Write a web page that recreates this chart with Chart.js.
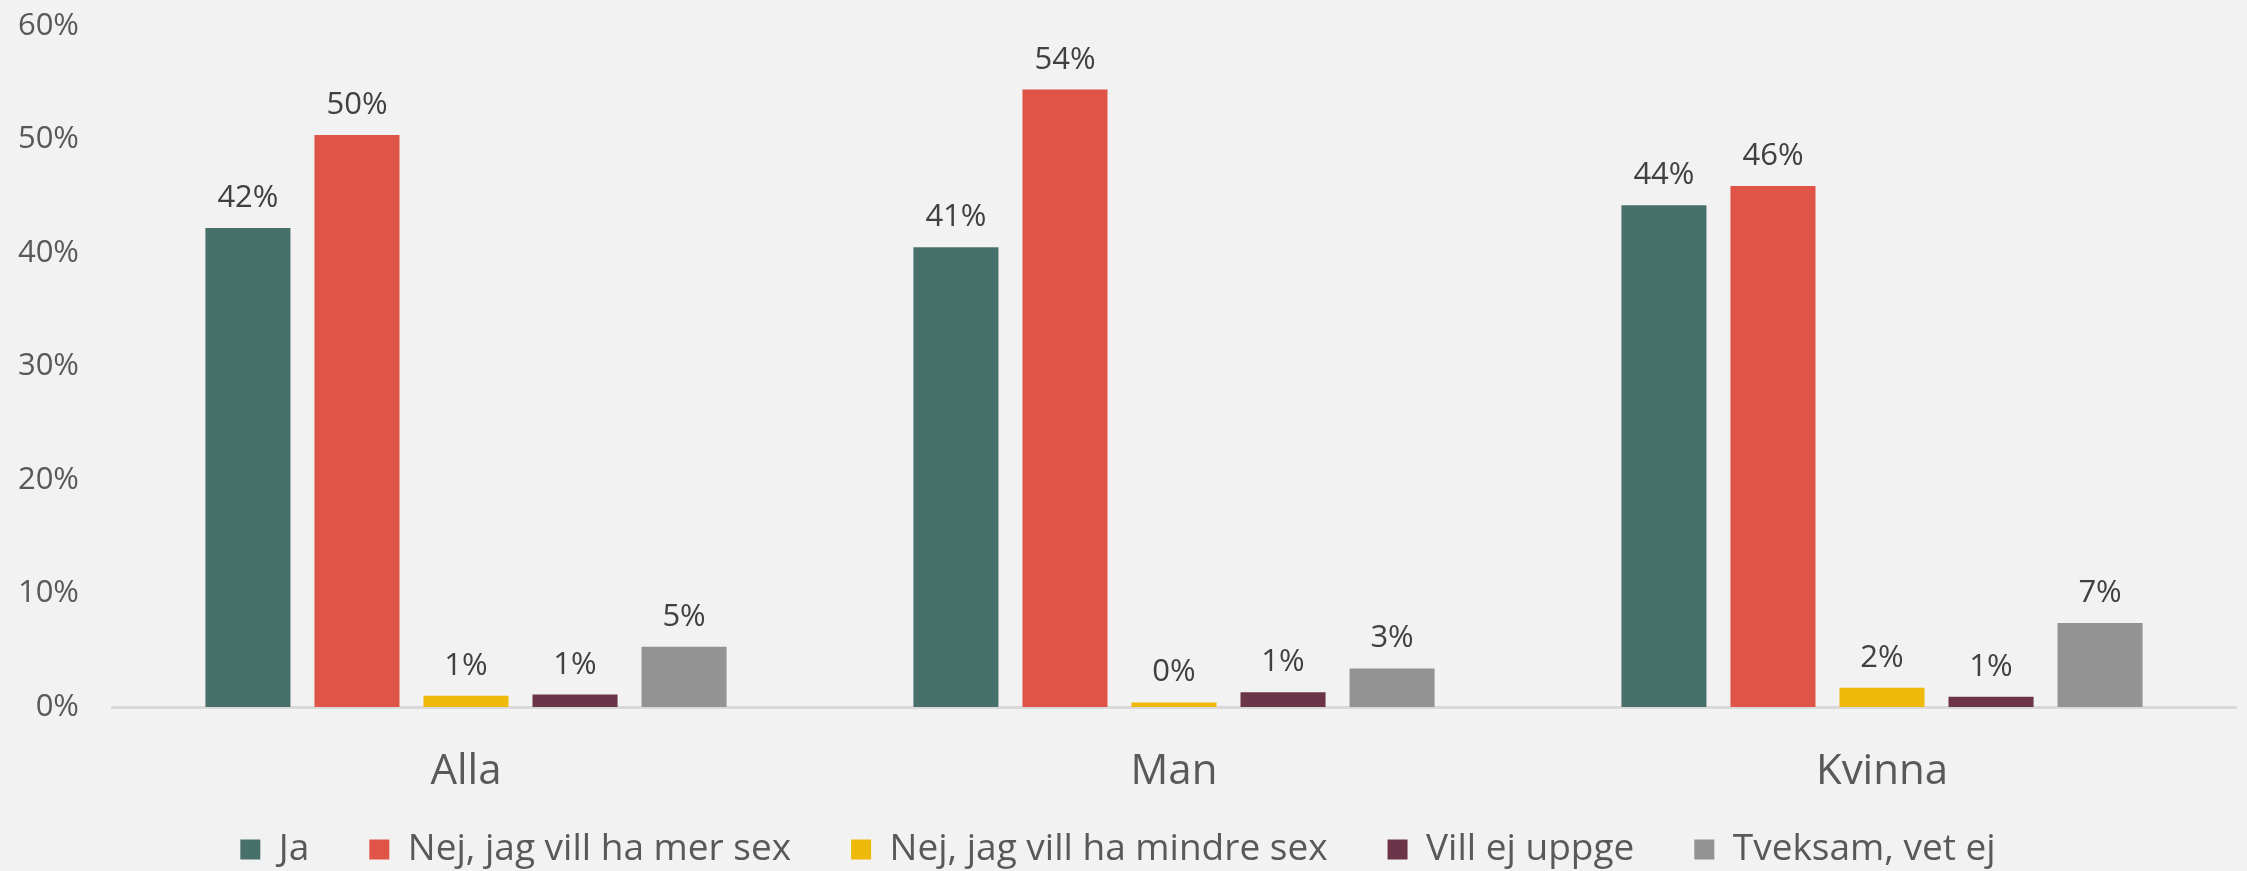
<!DOCTYPE html>
<html>
<head>
<meta charset="utf-8">
<script src="https://cdn.jsdelivr.net/npm/chart.js@4"></script>
<style>
  html, body { margin: 0; padding: 0; background: #f2f2f2; }
  #wrap { width: 2247px; height: 871px; }
</style>
</head>
<body>
<div id="wrap"><canvas id="chart"></canvas></div>
<script>
// data (percent)
const categories = ['Alla', 'Man', 'Kvinna'];
const seriesNames = ['Ja', 'Nej, jag vill ha mer sex', 'Nej, jag vill ha mindre sex', 'Vill ej uppge', 'Tveksam, vet ej'];
const ja = [42.2, 40.5, 44.2];
const nejMer = [50.4, 54.4, 45.9];
const nejMindre = [1.0, 0.4, 1.7];
const villEj = [1.1, 1.3, 0.9];
const tveksam = [5.3, 3.4, 7.4];
const colors = ['#48706b', '#e05447', '#efb90a', '#6b3448', '#939393'];
const yTicks = [0, 10, 20, 30, 40, 50, 60];

const values = [ja, nejMer, nejMindre, villEj, tveksam];
const FONT = '"Open Sans", sans-serif';

// etiketter ovanför staplarna
const valueLabels = {
  id: 'valueLabels',
  afterDatasetsDraw(chart) {
    const ctx = chart.ctx;
    ctx.save();
    ctx.font = '31px ' + FONT;
    ctx.fillStyle = '#404040';
    ctx.textAlign = 'center';
    ctx.textBaseline = 'alphabetic';
    chart.data.datasets.forEach((ds, i) => {
      const meta = chart.getDatasetMeta(i);
      meta.data.forEach((bar, j) => {
        ctx.fillText(Math.round(ds.data[j]) + '%', bar.x, bar.y - 21);
      });
    });
    ctx.restore();
  },
};

const datasets = seriesNames.map((name, i) => ({
  label: name,
  data: values[i],
  backgroundColor: colors[i],
  borderWidth: 0,
  categoryPercentage: 0.77,
  barPercentage: 0.78,
}));

new Chart(document.getElementById('chart').getContext('2d'), {
  type: 'bar',
  data: { labels: categories, datasets },
  plugins: [valueLabels],
  options: {
    responsive: true,
    maintainAspectRatio: false,
    animation: false,
    layout: { padding: { top: 0, right: 11, left: 0, bottom: -7 } },
    plugins: {
      tooltip: { enabled: false },
      legend: {
        position: 'bottom',
        labels: {
          font: { family: FONT, size: 37 },
          color: '#595959',
          boxWidth: 20,
          boxHeight: 20,
          padding: 60,
        },
      },
    },
    scales: {
      x: {
        grid: { display: false, drawTicks: false },
        border: { display: true, color: '#d9d9d9', width: 3 },
        ticks: { font: { family: FONT, size: 42 }, color: '#595959', padding: 40 },
        afterFit(axis) {
          axis.height = 64;
          // låt etiketterna sticka ut under axelns ruta
          axis._computeLabelArea = () => undefined;
        },
      },
      y: {
        min: 0,
        max: 60,
        grid: { display: false, drawTicks: false },
        border: { display: false },
        afterBuildTicks(axis) { axis.ticks = yTicks.map((v) => ({ value: v })); },
        ticks: {
          font: { family: FONT, size: 31 },
          color: '#595959',
          padding: 33,
          callback: (v) => v + '%',
        },
        afterFit(axis) {
          axis.width = 112;
          axis.paddingTop = 26;
        },
      },
    },
  },
});
</script>
</body>
</html>
